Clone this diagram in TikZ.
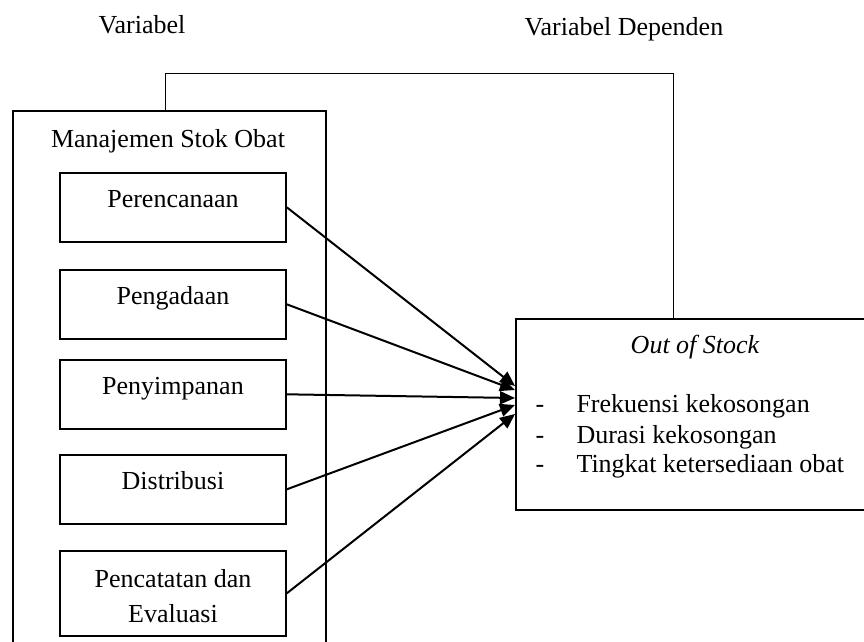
\documentclass[tikz,border=0pt]{standalone}
\usepackage{fontspec}
\setmainfont{Liberation Serif}
\usetikzlibrary{arrows.meta,positioning}
\tikzset{
  box/.style={draw,line width=1.6pt,minimum width=226pt},
  subbox/.style={box,text height=19pt,text depth=18pt,inner ysep=16pt},
  flow/.style={line width=2pt,-{Triangle[length=15pt,width=13pt]}},
}
\begin{document}
\begin{tikzpicture}[x=1pt,y=-1pt,font=\fontsize{26}{35}\selectfont]
\useasboundingbox (0,0) rectangle (864,641);
\clip (0,0) rectangle (864,641);
% Judul variabel
\node[anchor=base] (varx) at (142,33) {Variabel};
\node[anchor=base] (vary) at (624,35) {Variabel Dependen};
% Kotak manajemen stok obat
\node[draw,line width=1.6pt,minimum width=313pt,minimum height=560pt,anchor=north west] (mso) at (12,110) {};
\node[anchor=base] (msotitle) at (168,147) {Manajemen Stok Obat};
\node[subbox,anchor=north] (plan) at (173,172) {Perencanaan};
\node[subbox,anchor=north] (proc) at (173,269) {Pengadaan};
\node[subbox,anchor=north] (stor) at (173,359) {Penyimpanan};
\node[subbox,anchor=north] (dist) at (173,454) {Distribusi};
\node[box,minimum height=85pt,align=center,anchor=north] (note) at (173,550)
  {\rule{0pt}{24pt}Pencatatan dan\\Evaluasi};
% Kotak out of stock
\node[draw,line width=1.6pt,minimum width=360pt,minimum height=191pt,anchor=north west] (oos) at (515,318) {};
\node[anchor=base] (oostitle) at (695,353) {\itshape Out of Stock};
\foreach \ind/\txt/\yy in {1/Frekuensi kekosongan/412,2/Durasi kekosongan/443,3/Tingkat ketersediaan obat/472}
{
  \node[anchor=base] (dash\ind) at (540,\yy) {-};
  \node[anchor=base west] (ind\ind) at (573,\yy) {\txt};
}
% Garis penghubung atas
\coordinate (lnkL) at (165,73);
\coordinate (lnkR) at (673,73);
\draw[line width=1pt] (lnkL |- mso.north) -- (lnkL) -- (lnkR) -- (lnkR |- oos.north);
% Panah ke out of stock
\foreach \bx/\ty in {plan/386,proc/390,stor/398,dist/405,note/414}
{
  \coordinate (tip) at (515,\ty);
  \draw[flow] (\bx.east) -- (oos.west |- tip);
}
\end{tikzpicture}
\end{document}
